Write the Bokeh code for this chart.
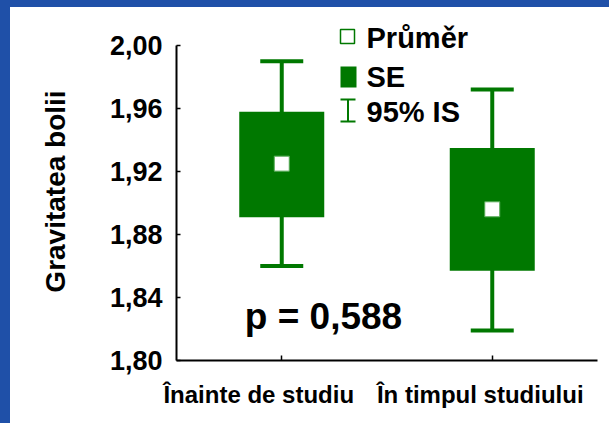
import math
from bokeh.plotting import figure
from bokeh.models import (FixedTicker, Label, ColumnDataSource, Range1d, LinearAxis,
                          Whisker, TeeHead, BoxAnnotation, GlobalInlineStyleSheet)
from bokeh.embed import file_html
from bokeh.resources import INLINE

# ---- data ----
categories = ["Înainte de studiu", "În timpul studiului"]
cat_pos = [0.5, 1.5]
means = [1.925, 1.896]
se_low = [1.891, 1.857]
se_high = [1.958, 1.935]
ci_low = [1.860, 1.819]
ci_high = [1.990, 1.972]
y_ticks = [1.80, 1.84, 1.88, 1.92, 1.96, 2.00]
y_tick_labels = ["1,80", "1,84", "1,88", "1,92", "1,96", "2,00"]
y_title = "Gravitatea bolii"
p_text = "p = 0,588"
legend_labels = ["Průměr", "SE", "95% IS"]

# ---- style ----
GREEN = "#007800"
BLUE = "#1F50A8"
FONT = "Liberation Sans"

W, H = 609, 423
ML, MR, MT, MB = 176, 12, 22, 63
Y0 = 1.80
PYU = 1575.0
Y1 = Y0 + (H - MT - MB) / PYU
FX0 = ML
FY0 = H - MB
PXU = (W - ML - MR) / 2.0
LABEL_SHIFT = [-23, -12]   # px shift of category labels from their ticks
TXT_ADJ = 11               # px correction of the label baseline

def dx(px):
    return (px - FX0) / PXU

def dy(py):
    return Y0 + (FY0 - py) / PYU

css = GlobalInlineStyleSheet(css=(
    "body{background:"
    f"linear-gradient({BLUE},{BLUE}) 0 0/100% 7px no-repeat,"
    f"linear-gradient({BLUE},{BLUE}) 0 0/10px 100% no-repeat,#ffffff;}}"))

p = figure(width=W, height=H, x_range=Range1d(0, 2), y_range=Range1d(Y0, Y1),
           output_backend="svg", toolbar_location=None,
           min_border_left=ML, min_border_right=MR, min_border_top=MT,
           min_border_bottom=MB, stylesheets=[css])
p.outline_line_color = None
p.grid.visible = False
p.background_fill_color = "white"
p.border_fill_color = None

src = ColumnDataSource(dict(x=cat_pos, mean=means, lo=se_low, hi=se_high,
                            cl=ci_low, ch=ci_high))

wh = Whisker(source=src, base="x", lower="cl", upper="ch", dimension="height",
             line_color=GREEN, line_width=4, level="underlay",
             upper_head=TeeHead(size=43, line_color=GREEN, line_width=4),
             lower_head=TeeHead(size=43, line_color=GREEN, line_width=4))
p.add_layout(wh)

p.vbar(x="x", width=85 / PXU, bottom="lo", top="hi", source=src,
       fill_color=GREEN, line_color=None)
p.scatter(x="x", y="mean", source=src, marker="square", size=15,
          fill_color="white", line_color="#55aa55", line_width=1)

# y axis
ya = p.yaxis[0]
ya.ticker = FixedTicker(ticks=y_ticks)
ya.major_label_overrides = {t: l for t, l in zip(y_ticks, y_tick_labels)}
ya.bounds = (y_ticks[0], y_ticks[-1])
ya.axis_label = y_title
ya.axis_label_text_font = FONT
ya.axis_label_text_font_style = "bold"
ya.axis_label_text_font_size = "28px"
ya.axis_label_text_color = "black"
ya.axis_label_standoff = 36
ya.major_label_text_font = FONT
ya.major_label_text_font_style = "bold"
ya.major_label_text_font_size = "27px"
ya.major_label_text_color = "black"
ya.major_label_standoff = 14
ya.major_tick_in = 4
ya.major_tick_out = 0
ya.minor_tick_in = 0
ya.minor_tick_out = 0
ya.axis_line_width = 2
ya.major_tick_line_width = 1.5

# x axis: tick marks at the categories
xa = p.xaxis[0]
xa.ticker = FixedTicker(ticks=cat_pos)
xa.major_label_overrides = {c: "" for c in cat_pos}
xa.major_label_text_font_size = "0px"
xa.major_label_standoff = 0
xa.major_tick_in = 5
xa.major_tick_out = 0
xa.minor_tick_in = 0
xa.minor_tick_out = 0
xa.axis_line_width = 2
xa.major_tick_line_width = 1.5

# second x axis carrying the category names (slightly left of the ticks)
lab_pos = [c + s / PXU for c, s in zip(cat_pos, LABEL_SHIFT)]
xl = LinearAxis(ticker=FixedTicker(ticks=lab_pos),
                major_label_overrides={v: t for v, t in zip(lab_pos, categories)},
                axis_line_color=None, major_tick_line_color=None,
                minor_tick_line_color=None, major_label_standoff=14,
                major_label_text_font=FONT, major_label_text_font_style="bold",
                major_label_text_font_size="24px", major_label_text_color="black")
p.add_layout(xl, "below")

# p value
p.add_layout(Label(x=dx(323), y=dy(327 - TXT_ADJ), text=p_text, text_align="center",
                   text_baseline="alphabetic", text_font=FONT, text_font_style="bold",
                   text_font_size="37px", text_color="black"))

# legend (manual)
p.add_layout(BoxAnnotation(left=dx(340), right=dx(354), top=dy(29), bottom=dy(43),
                           fill_color="white", fill_alpha=1, line_color=GREEN,
                           line_width=1.5, line_alpha=1))
p.add_layout(BoxAnnotation(left=dx(340), right=dx(356), top=dy(66), bottom=dy(87),
                           fill_color=GREEN, fill_alpha=1, line_color=None))
lsrc = ColumnDataSource(dict(x=[dx(347.5)], lo=[dy(121)], hi=[dy(99)]))
p.add_layout(Whisker(source=lsrc, base="x", lower="lo", upper="hi", dimension="height",
                     line_color=GREEN, line_width=2,
                     upper_head=TeeHead(size=15, line_color=GREEN, line_width=2),
                     lower_head=TeeHead(size=15, line_color=GREEN, line_width=2)))
for txt, base in zip(legend_labels, [48, 87, 122]):
    p.add_layout(Label(x=dx(366), y=dy(base - TXT_ADJ), text=txt, text_align="left",
                       text_baseline="alphabetic", text_font=FONT,
                       text_font_style="bold", text_font_size="29px",
                       text_color="black"))

open("out.html", "w").write(file_html(p, INLINE))
